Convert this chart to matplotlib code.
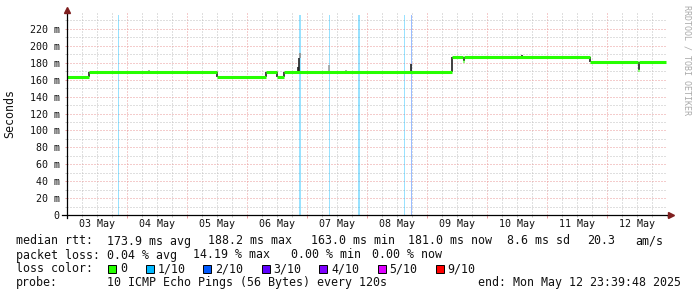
import matplotlib
matplotlib.use("Agg")
import matplotlib.pyplot as plt
import matplotlib.transforms as mtransforms
from matplotlib.patches import Rectangle

# time axis in hours since 03 May 00:00
day_labels = ["03 May", "04 May", "05 May", "06 May", "07 May",
              "08 May", "09 May", "10 May", "11 May", "12 May"]

# median rtt (ms), flat pieces
seg_start = [0.0, 8.9, 60.1, 79.5, 84.1, 86.9, 154.0, 158.5, 158.9, 209.2, 228.5, 228.9]
seg_end = [8.9, 60.1, 79.5, 84.1, 86.9, 154.0, 158.5, 158.9, 209.2, 228.5, 228.9, 239.7]
seg_value = [163.0, 169.5, 163.0, 169.5, 163.0, 169.5, 187.3, 182.5, 187.3, 181.3, 171.5, 181.3]

# smoke spikes: time, low, high, shade
smoke_t = [8.9, 60.1, 79.5, 84.1, 86.9, 92.4, 92.8, 93.0, 104.9, 111.7, 137.4,
           154.0, 158.6, 182.0, 209.2, 228.6, 32.8]
smoke_lo = [163, 163, 163, 163, 163, 169.5, 169.5, 186, 169.5, 169.5, 169.5,
            169.5, 182.5, 187.3, 181.3, 172, 169.5]
smoke_hi = [169.5, 169.5, 169.5, 169.5, 169.5, 175, 186, 192, 177, 171, 179,
            187.3, 187.3, 189, 187.3, 181.3, 171]
smoke_col = ["#202020"] * 7 + ["#909090", "#a0a0a0", "#a0a0a0"] + ["#202020"] * 6 + ["#a0a0a0"]

# loss events: time, duration (h), loss level
loss_t = [20.5, 93.0, 104.9, 116.8, 134.9, 137.7]
loss_w = [0.4, 0.8, 0.4, 0.8, 0.4, 0.4]
loss_lvl = ["1/10", "1/10", "1/10", "1/10", "1/10", "2/10"]

loss_names = ["0", "1/10", "2/10", "3/10", "4/10", "5/10", "9/10"]
loss_colors = ["#26ff00", "#00b8ff", "#0059ff", "#5e00ff", "#7e00ff", "#dd00ff", "#ff0000"]
loss_map = dict(zip(loss_names, loss_colors))

W, H = 697, 297
mono = "DejaVu Sans Mono"
plt.rcParams["font.family"] = mono

fig = plt.figure(figsize=(W / 100, H / 100), dpi=100)
ax = fig.add_axes([67 / W, (H - 215) / H, 600 / W, 203 / H])
ax.set_xlim(0, 240)
ax.set_ylim(0, 240)

grid_minor = "#c0c0c0"
grid_major = "#eb9a9a"
dots = (0, (1, 2))

for t, w, lv in zip(loss_t, loss_w, loss_lvl):
    ax.axvspan(t - w / 2, t + w / 2, ymax=0.985, color=loss_map[lv], alpha=0.4, lw=0, zorder=1)

ax.set_xticks(range(0, 240, 24))
ax.set_xticks(range(0, 241, 6), minor=True)
ax.set_xticklabels([])
ax.set_yticks(range(0, 221, 20))
ax.set_yticks(range(10, 231, 20), minor=True)
ax.set_yticklabels(["0"] + [f"{v} m" for v in range(20, 221, 20)], fontsize=7.2)
ax.grid(which="major", color=grid_major, lw=0.72, linestyle=dots, zorder=0)
ax.grid(which="minor", color=grid_minor, lw=0.72, linestyle=dots, zorder=0)
ax.set_axisbelow(True)
ax.tick_params(which="major", length=1.8, width=0.7, color=grid_major, pad=3.4, labelcolor="#111111")
ax.tick_params(which="minor", length=1.5, width=0.7, color=grid_minor)

for s in ax.spines.values():
    s.set_visible(False)

for t, lo, hi, c in zip(smoke_t, smoke_lo, smoke_hi, smoke_col):
    ax.vlines(t, lo, hi, color=c, lw=1.2, zorder=3)

ax.hlines(seg_value, seg_start, seg_end, color=loss_map["0"], lw=2.2, zorder=4)

# axes lines with arrows
ax.plot([-5 / 600, 1.006], [0, 0], color="black", lw=0.9, transform=ax.transAxes, clip_on=False, zorder=5)
ax.plot([0, 0], [-3 / 203, 1.0], color="black", lw=0.9, transform=ax.transAxes, clip_on=False, zorder=5)
ax.plot([0], [1.012], marker="^", ms=4, color="#7f1f1f", transform=ax.transAxes, clip_on=False, zorder=6)
ax.plot([1.007], [0], marker=">", ms=4, color="#7f1f1f", transform=ax.transAxes, clip_on=False, zorder=6)

trans = mtransforms.blended_transform_factory(ax.transData, ax.transAxes)
for i, lab in enumerate(day_labels):
    ax.text(24 * i + 12, -9 / 203, lab, transform=trans, ha="center", va="center",
            fontsize=7.2, color="#111111")


def ftext(x, y, s, **kw):
    kw.setdefault("fontsize", 8.4)
    kw.setdefault("color", "#111111")
    fig.text(x / W, 1 - y / H, s, va="baseline", **kw)


fig.text(10 / W, 1 - 114 / H, "Seconds", rotation=90, ha="center", va="center",
         fontsize=8.4, color="#111111")
fig.text(687 / W, 1 - 60 / H, "RRDTOOL / TOBI OETIKER", rotation=-90, ha="center",
         va="center", fontsize=6, color="#aaaaaa")

ftext(16, 244.5, "median rtt:")
ftext(107, 244.5, "173.9 ms avg")
ftext(207.7, 244.5, "188.2 ms max")
ftext(311, 244.5, "163.0 ms min")
ftext(407.7, 244.5, "181.0 ms now")
ftext(506.7, 244.5, "8.6 ms sd")
ftext(586.7, 244.5, "20.3")
ftext(635.7, 244.5, "am/s")

ftext(16, 258.5, "packet loss:")
ftext(107, 258.5, "0.04 % avg")
ftext(193.3, 258.5, "14.19 % max")
ftext(290.7, 258.5, "0.00 % min")
ftext(372.3, 258.5, "0.00 % now")

ftext(16, 272, "loss color:")
sw_x = [108.3, 145.7, 203.3, 261.7, 319.3, 377.7, 435.7]
for x, name, col in zip(sw_x, loss_names, loss_colors):
    fig.patches.append(Rectangle((x / W, 1 - 273 / H), 8 / W, 8 / H, transform=fig.transFigure,
                                 facecolor=col, edgecolor="black", lw=0.7))
    ftext(x + 12, 272, name)

ftext(16, 286, "probe:")
ftext(107, 286, "10 ICMP Echo Pings (56 Bytes) every 120s")
ftext(478.3, 286, "end: Mon May 12 23:39:48 2025")

fig.savefig("out.png", dpi=100)
